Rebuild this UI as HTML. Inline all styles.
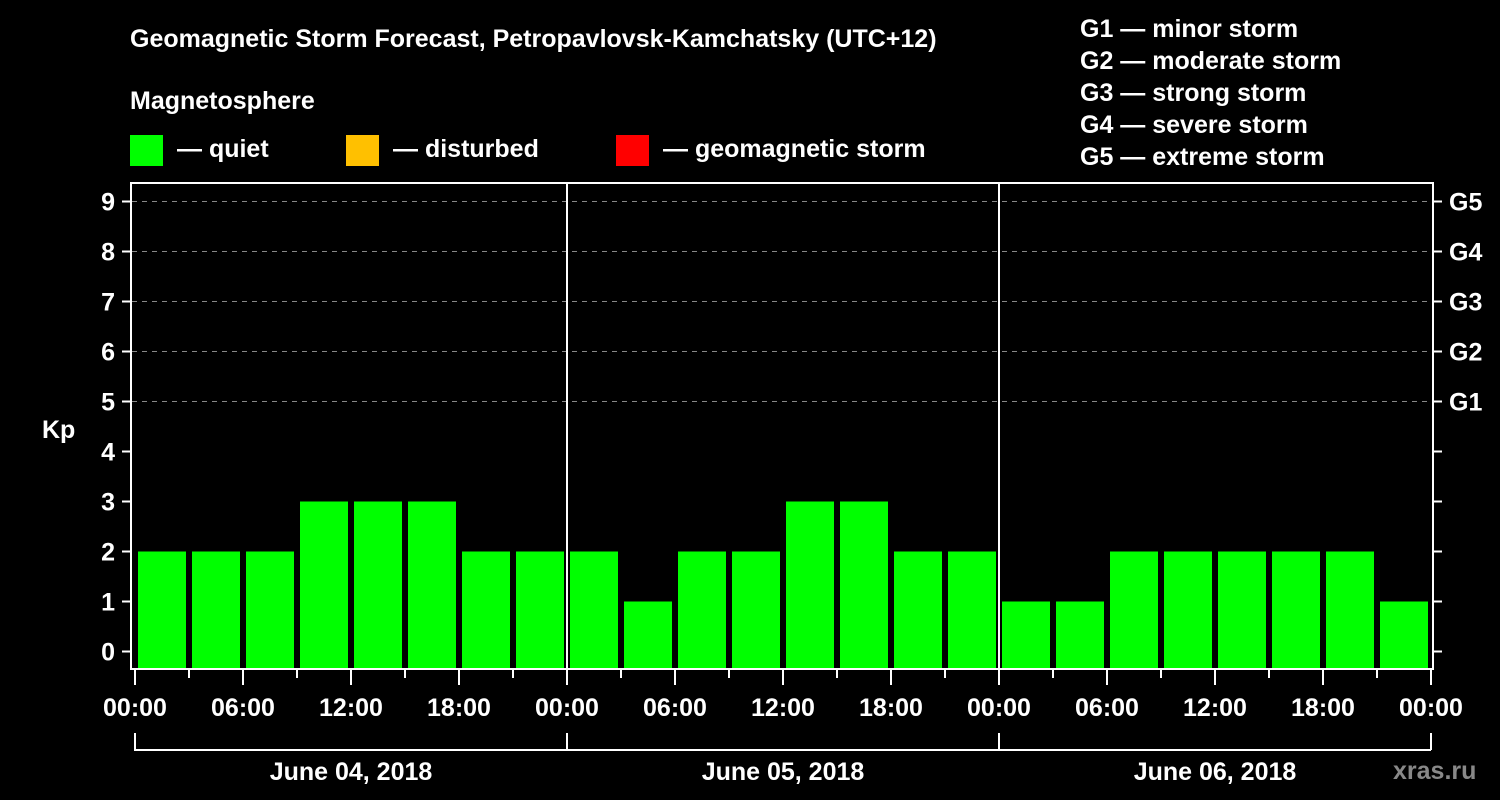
<!DOCTYPE html>
<html><head><meta charset="utf-8"><style>
body{margin:0;background:#000;}
svg{display:block;font-family:"Liberation Sans",Arial,sans-serif;font-weight:bold;}
</style></head><body>
<svg id="chart" width="1500" height="800" viewBox="0 0 1500 800">
<rect x="0" y="0" width="1500" height="800" fill="#000"/>
<text x="130" y="47" fill="#fff" font-size="25">Geomagnetic Storm Forecast, Petropavlovsk-Kamchatsky (UTC+12)</text>
<text x="130" y="109" fill="#fff" font-size="25">Magnetosphere</text>
<g><rect x="130" y="135" width="33" height="31" fill="#00ff00"/><text x="177" y="157" fill="#fff" font-size="25">— quiet</text></g>
<g><rect x="346" y="135" width="33" height="31" fill="#ffc000"/><text x="393" y="157" fill="#fff" font-size="25">— disturbed</text></g>
<g><rect x="616" y="135" width="33" height="31" fill="#ff0000"/><text x="663" y="157" fill="#fff" font-size="25">— geomagnetic storm</text></g>
<g fill="#fff" font-size="25">
<text x="1080" y="37">G1 — minor storm</text>
<text x="1080" y="69">G2 — moderate storm</text>
<text x="1080" y="101">G3 — strong storm</text>
<text x="1080" y="133">G4 — severe storm</text>
<text x="1080" y="165">G5 — extreme storm</text>
</g>
<text x="42" y="438" fill="#fff" font-size="25">Kp</text>
<text x="1393" y="779" fill="#888" font-size="25">xras.ru</text>
<g id="grid"></g><g id="bars"></g><g id="axes"></g>
<rect x="131" y="183" width="1302" height="486" fill="none" stroke="#fff" stroke-width="2"/>
</svg>
<script>
const kpValues=[2,2,2,3,3,3,2,2, 2,1,2,2,3,3,2,2, 1,1,2,2,2,2,2,1];
const dayLabels=["June 04, 2018","June 05, 2018","June 06, 2018"];
const yTicks=[0,1,2,3,4,5,6,7,8,9];
const gLabels=["G1","G2","G3","G4","G5"];
const gLevels=[5,6,7,8,9];
const hourLabels=["00:00","06:00","12:00","18:00"];
const NS="http://www.w3.org/2000/svg";
const x0=135,slotW=54,yBase=651.5,unit=50,plotBottom=669;
const xs=i=>x0+i*slotW;
const ys=v=>yBase-v*unit;
function mk(tag,attrs,parent,txt){const e=document.createElementNS(NS,tag);for(const k in attrs)e.setAttribute(k,attrs[k]);if(txt!==undefined)e.textContent=txt;parent.appendChild(e);return e;}
const grid=document.getElementById('grid'),bars=document.getElementById('bars'),axes=document.getElementById('axes');
yTicks.forEach(v=>{
  if(v>=5){const l=mk('line',{x1:132,x2:1432,y1:ys(v),y2:ys(v),stroke:'#888','stroke-dasharray':'5,5','stroke-width':1},grid);
  
  }
  const t=mk('line',{x1:122,x2:131,y1:ys(v),y2:ys(v),stroke:'#fff','stroke-width':2},axes);
  
  
  const r=mk('line',{x1:1433,x2:1442,y1:ys(v),y2:ys(v),stroke:'#fff','stroke-width':2},axes);
  
  
  const lb=mk('text',{x:115,y:ys(v)+9,fill:'#fff','font-size':25,'text-anchor':'end'},axes,String(v));
  
  
});
gLevels.forEach((v,i)=>{
  const lb=mk('text',{x:1449,y:ys(v)+9,fill:'#fff','font-size':25},axes,gLabels[i]);
  
  
});
kpValues.forEach((v,i)=>{
  const c=v>=5?'#ff0000':(v>=4?'#ffc000':'#00ff00');
  const b=mk('rect',{x:xs(i)+3,y:ys(v),width:48,height:plotBottom-ys(v),fill:c},bars);
  
  
});
for(let d=1;d<dayLabels.length;d++){
  const l=mk('line',{x1:xs(d*8),x2:xs(d*8),y1:183,y2:669,stroke:'#fff','stroke-width':2},axes);
  
  
}
for(let i=0;i<=kpValues.length;i++){
  const major=i%2===0;
  const t=mk('line',{x1:xs(i),x2:xs(i),y1:669,y2:major?685:678,stroke:'#fff','stroke-width':2},axes);
  
  
  if(major){
    const lb=mk('text',{x:xs(i),y:716,fill:'#fff','font-size':25,'text-anchor':'middle'},axes,hourLabels[(i/2)%4]);
    
    
  }
}
dayLabels.forEach((d,k)=>{
  const a=xs(k*8),b=xs(k*8+8);
  const br=mk('path',{d:`M${a},733V750H${b}`+(k===dayLabels.length-1?`M${b},733V750`:''),stroke:'#fff','stroke-width':2,fill:'none'},axes);
  
  
  const lb=mk('text',{x:(a+b)/2,y:780,fill:'#fff','font-size':25,'text-anchor':'middle'},axes,d);
  
  
});
</script>
</body></html>
